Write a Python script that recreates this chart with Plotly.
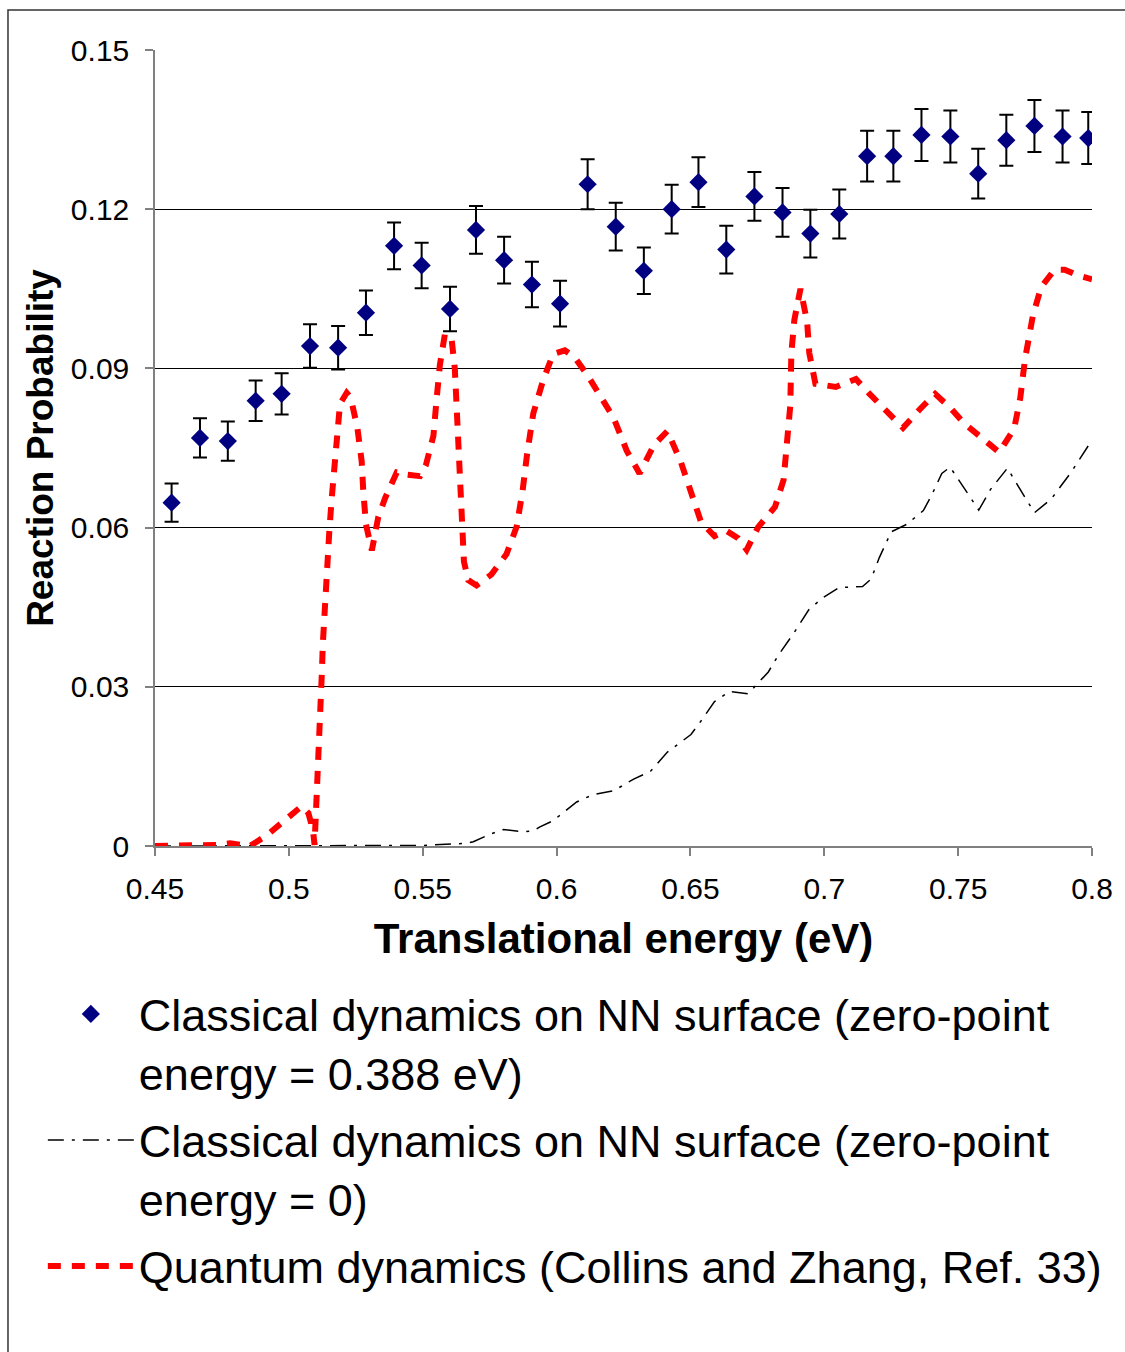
import plotly.graph_objects as go

# ---- Classical dynamics, ZPE = 0.388 eV (diamonds with error bars)
cl_x = [0.4562, 0.4668, 0.4772, 0.4876, 0.4973, 0.5079, 0.5184, 0.5288, 0.5393, 0.5496,
        0.5602, 0.5699, 0.5804, 0.5908, 0.6013, 0.6116, 0.6221, 0.6326, 0.6430, 0.6530,
        0.6634, 0.6739, 0.6844, 0.6948, 0.7056, 0.7160, 0.7258, 0.7363, 0.7471, 0.7575,
        0.7680, 0.7785, 0.7890, 0.7986]
cl_y = [0.0647, 0.0769, 0.0763, 0.0839, 0.0852, 0.0942, 0.0939, 0.1005, 0.1131, 0.1094,
        0.1012, 0.1161, 0.1104, 0.1058, 0.1022, 0.1247, 0.1167, 0.1084, 0.1200, 0.1251,
        0.1124, 0.1224, 0.1194, 0.1154, 0.1191, 0.1300, 0.1300, 0.1340, 0.1337, 0.1267,
        0.1330, 0.1357, 0.1337, 0.1334]
cl_err = [0.0036, 0.0037, 0.0037, 0.0038, 0.0039, 0.0041, 0.0041, 0.0042, 0.0044, 0.0043,
          0.0042, 0.0045, 0.0044, 0.0043, 0.0043, 0.0047, 0.0045, 0.0044, 0.0046, 0.0047,
          0.0045, 0.0046, 0.0046, 0.0045, 0.0046, 0.0048, 0.0048, 0.0049, 0.0049, 0.0047,
          0.0048, 0.0049, 0.0049, 0.0049]

# ---- Classical dynamics, ZPE = 0 (dash-dot line)
c0_x = [0.4500, 0.5000, 0.5501, 0.5613, 0.5662, 0.5689, 0.5751, 0.5801, 0.5876, 0.5912,
        0.5938, 0.5988, 0.6075, 0.6137, 0.6213, 0.6288, 0.6351, 0.6414, 0.6502, 0.6540,
        0.6590, 0.6646, 0.6716, 0.6791, 0.6829, 0.6886, 0.6942, 0.6992, 0.7055, 0.7143,
        0.7175, 0.7206, 0.7250, 0.7307, 0.7370, 0.7401, 0.7439, 0.7470, 0.7521, 0.7577,
        0.7621, 0.7684, 0.7735, 0.7785, 0.7848, 0.7923, 0.8000]
c0_y = [0.0000, 0.0000, 0.0001, 0.0004, 0.0005, 0.0008, 0.0022, 0.0031, 0.0027, 0.0028,
        0.0036, 0.0048, 0.0083, 0.0097, 0.0104, 0.0126, 0.0141, 0.0177, 0.0210, 0.0236,
        0.0272, 0.0291, 0.0287, 0.0328, 0.0360, 0.0401, 0.0445, 0.0467, 0.0487, 0.0489,
        0.0503, 0.0544, 0.0592, 0.0606, 0.0632, 0.0661, 0.0702, 0.0714, 0.0676, 0.0633,
        0.0672, 0.0712, 0.0669, 0.0628, 0.0654, 0.0705, 0.0765]

# ---- Quantum dynamics (Collins and Zhang)
qd_x = [0.4500, 0.4631, 0.4730, 0.4780, 0.4830, 0.4855, 0.4917, 0.4967, 0.5017, 0.5048,
        0.5073, 0.5090, 0.5096, 0.5104, 0.5110, 0.5116, 0.5118, 0.5123, 0.5127, 0.5133,
        0.5139, 0.5148, 0.5151, 0.5160, 0.5170, 0.5179, 0.5191, 0.5216, 0.5231, 0.5256,
        0.5272, 0.5278, 0.5288, 0.5310, 0.5334, 0.5359, 0.5403, 0.5440, 0.5490, 0.5512,
        0.5540, 0.5552, 0.5564, 0.5583, 0.5608, 0.5620, 0.5626, 0.5632, 0.5635, 0.5639,
        0.5645, 0.5654, 0.5670, 0.5701, 0.5757, 0.5813, 0.5851, 0.5873, 0.5890, 0.5913,
        0.5950, 0.5987, 0.6031, 0.6069, 0.6118, 0.6174, 0.6212, 0.6262, 0.6310, 0.6364,
        0.6414, 0.6464, 0.6508, 0.6540, 0.6590, 0.6634, 0.6678, 0.6710, 0.6753, 0.6816,
        0.6848, 0.6860, 0.6873, 0.6877, 0.6888, 0.6911, 0.6936, 0.6944, 0.6967, 0.7043,
        0.7118, 0.7169, 0.7231, 0.7294, 0.7357, 0.7414, 0.7470, 0.7521, 0.7584, 0.7653,
        0.7709, 0.7732, 0.7750, 0.7779, 0.7810, 0.7860, 0.7898, 0.7948, 0.8000]
qd_y = [0.0000, 0.0000, 0.0002, 0.0005, 0.0001, 0.0000, 0.0020, 0.0041, 0.0065, 0.0075,
        0.0062, 0.0030, 0.0002, 0.0087, 0.0145, 0.0205, 0.0264, 0.0323, 0.0382, 0.0445,
        0.0505, 0.0564, 0.0592, 0.0655, 0.0714, 0.0773, 0.0833, 0.0854, 0.0845, 0.0788,
        0.0725, 0.0669, 0.0606, 0.0557, 0.0620, 0.0655, 0.0704, 0.0700, 0.0697, 0.0718,
        0.0773, 0.0843, 0.0906, 0.0965, 0.0955, 0.0899, 0.0837, 0.0777, 0.0718, 0.0658,
        0.0595, 0.0536, 0.0501, 0.0491, 0.0512, 0.0550, 0.0602, 0.0669, 0.0739, 0.0815,
        0.0878, 0.0927, 0.0934, 0.0920, 0.0885, 0.0837, 0.0808, 0.0745, 0.0702, 0.0756,
        0.0782, 0.0724, 0.0658, 0.0610, 0.0584, 0.0594, 0.0580, 0.0558, 0.0601, 0.0639,
        0.0690, 0.0749, 0.0830, 0.0929, 0.0991, 0.1050, 0.0987, 0.0929, 0.0871, 0.0865,
        0.0880, 0.0852, 0.0819, 0.0788, 0.0823, 0.0852, 0.0826, 0.0797, 0.0771, 0.0742,
        0.0786, 0.0844, 0.0918, 0.0999, 0.1053, 0.1086, 0.1086, 0.1075, 0.1068]

x_ticks = [0.45, 0.5, 0.55, 0.6, 0.65, 0.7, 0.75, 0.8]
x_labels = ["0.45", "0.5", "0.55", "0.6", "0.65", "0.7", "0.75", "0.8"]
y_ticks = [0, 0.03, 0.06, 0.09, 0.12, 0.15]
y_labels = ["0", "0.03", "0.06", "0.09", "0.12", "0.15"]

names = [
    "Classical dynamics on NN surface (zero-point<br>energy = 0.388 eV)",
    "Classical dynamics on NN surface (zero-point<br>energy = 0)",
    "Quantum dynamics (Collins and Zhang, Ref. 33)",
]

FONT = "Liberation Sans, Arial, sans-serif"

fig = go.Figure()
fig.add_trace(go.Scatter(
    x=cl_x, y=cl_y, mode="markers", name=names[0], legendgroup="a",
    marker=dict(symbol="diamond", size=14, color="#000080"),
    error_y=dict(type="data", array=cl_err, color="black", thickness=2, width=7),
))
fig.add_trace(go.Scatter(
    x=c0_x, y=c0_y, mode="lines", name=names[1], legendgroup="b",
    line=dict(color="black", width=1.5, dash="16px,8px,3px,8px"),
))
fig.add_trace(go.Scatter(
    x=qd_x, y=qd_y, mode="lines", name=names[2], legendgroup="c", cliponaxis=False,
    line=dict(color="#FF0000", width=6, dash="13px,11px"),
))

# outer frame
fig.add_shape(type="rect", xref="paper", yref="paper",
              x0=-0.1569, x1=1.042, y0=-0.66, y1=1.0503,
              line=dict(color="#333333", width=1.5), layer="below")

fig.update_layout(
    width=1125, height=1352,
    margin=dict(l=155, r=33, t=50, b=506),
    paper_bgcolor="white", plot_bgcolor="white",
    font=dict(family=FONT, color="black", size=30),
    showlegend=True,
    legend=dict(
        x=-0.1197, y=-0.166, xanchor="left", yanchor="top",
        font=dict(family=FONT, size=45, color="black"),
        itemwidth=86, valign="top", traceorder="grouped", tracegroupgap=6,
        bgcolor="rgba(0,0,0,0)",
    ),
    xaxis=dict(
        range=[0.45, 0.8], tickvals=x_ticks, ticktext=x_labels,
        showgrid=False, zeroline=False, showline=True, linecolor="#808080", linewidth=1.5,
        ticks="outside", ticklen=8, tickcolor="#808080", tickwidth=1.5,
        tickfont=dict(size=30), ticklabelstandoff=7,
        title=dict(text="<b>Translational energy (eV)</b>", font=dict(size=42), standoff=20),
    ),
    yaxis=dict(
        range=[0, 0.15], tickvals=y_ticks, ticktext=y_labels,
        showgrid=True, gridcolor="black", gridwidth=1, zeroline=False,
        showline=True, linecolor="#808080", linewidth=1.5,
        ticks="outside", ticklen=8, tickcolor="#808080", tickwidth=1.5,
        tickfont=dict(size=30), ticklabelstandoff=10,
        title=dict(text="<b>Reaction Probability</b>", font=dict(size=37), standoff=6),
    ),
)

fig.write_html("out.html")
